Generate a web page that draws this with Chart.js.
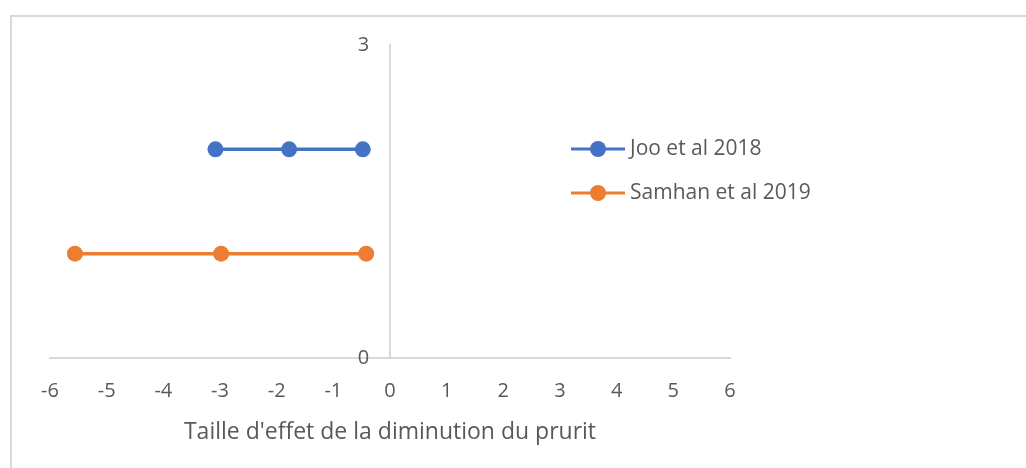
<!DOCTYPE html>
<html>
<head>
<meta charset="utf-8">
<script src="https://cdn.jsdelivr.net/npm/chart.js@4/dist/chart.umd.min.js"></script>
<style>
  html, body { margin: 0; padding: 0; background: #fff; overflow: hidden; }
  #wrap { position: relative; width: 1026px; height: 468px; }
  #frame { position: absolute; left: 10px; top: 15px; width: 1100px; height: 500px; border: 2px solid #d9d9d9; box-sizing: border-box; pointer-events: none; }
  canvas { position: absolute; left: 0; top: 0; }
</style>
</head>
<body>
<div id="wrap">
  <div id="frame"></div>
  <canvas id="c" width="1026" height="468"></canvas>
</div>
<script>
const seriesNames = ["Joo et al 2018", "Samhan et al 2019"];
const seriesColors = ["#4472C4", "#ED7D31"];
const jooX = [-3.08, -1.78, -0.48];
const jooY = [2, 2, 2];
const samhanX = [-5.56, -2.98, -0.42];
const samhanY = [1, 1, 1];
const xMin = -6, xMax = 6, xStep = 1;
const yMin = 0, yMax = 3, yStep = 3;
const xTitle = "Taille d'effet de la diminution du prurit";

const FONT = "'Open Sans', 'DejaVu Sans', sans-serif";

function pts(xs, ys) { return xs.map((x, i) => ({ x: x, y: ys[i] })); }

const legendPlugin = {
  id: 'customLegend',
  afterDraw(chart) {
    const ctx = chart.ctx;
    const ca = chart.chartArea;
    const x0 = ca.left + 521;
    const ys = [ca.top + 104, ca.top + 148];
    ctx.save();
    seriesNames.forEach((name, i) => {
      const y = ys[i];
      ctx.strokeStyle = seriesColors[i];
      ctx.lineWidth = 3;
      ctx.beginPath();
      ctx.moveTo(x0, y);
      ctx.lineTo(x0 + 54, y);
      ctx.stroke();
      ctx.fillStyle = seriesColors[i];
      ctx.beginPath();
      ctx.arc(x0 + 27, y, 8, 0, Math.PI * 2);
      ctx.fill();
      ctx.fillStyle = '#595959';
      ctx.font = "21px " + FONT;
      ctx.textAlign = 'left';
      ctx.textBaseline = 'middle';
      ctx.fillText(name, x0 + 59, y);
    });
    ctx.restore();
  }
};

new Chart(document.getElementById('c'), {
  type: 'scatter',
  data: {
    datasets: [
      { label: seriesNames[0], data: pts(jooX, jooY), showLine: true, borderColor: seriesColors[0], backgroundColor: seriesColors[0], borderWidth: 3.5, pointRadius: 8, pointHoverRadius: 8, pointBorderWidth: 0 },
      { label: seriesNames[1], data: pts(samhanX, samhanY), showLine: true, borderColor: seriesColors[1], backgroundColor: seriesColors[1], borderWidth: 3.5, pointRadius: 8, pointHoverRadius: 8, pointBorderWidth: 0 }
    ]
  },
  options: {
    responsive: false,
    animation: false,
    events: [],
    layout: { padding: { left: 50, right: 296, top: 45, bottom: 0 } },
    plugins: { legend: { display: false }, tooltip: { enabled: false } },
    scales: {
      x: {
        type: 'linear',
        position: 'bottom',
        min: xMin, max: xMax,
        ticks: { stepSize: xStep, color: '#595959', font: { family: FONT, size: 20 }, padding: 21, maxRotation: 0 },
        grid: { drawOnChartArea: false, drawTicks: false, color: 'rgba(0,0,0,0)' },
        border: { display: true, color: '#d9d9d9', width: 2 },
        title: { display: true, text: xTitle, color: '#595959', font: { family: FONT, size: 23 }, padding: { top: 22, bottom: 22 } },
        afterFit(scale) { scale.height = 110; }
      },
      y: {
        type: 'linear',
        position: { x: 0 },
        min: yMin, max: yMax,
        ticks: { stepSize: yStep, color: '#595959', font: { family: FONT, size: 20 }, padding: 0,
                 callback: (v) => v + '    ' },
        grid: { drawOnChartArea: false, drawTicks: false, color: 'rgba(0,0,0,0)' },
        border: { display: true, color: '#d9d9d9', width: 2 }
      }
    }
  },
  plugins: [legendPlugin]
});
</script>
</body>
</html>
